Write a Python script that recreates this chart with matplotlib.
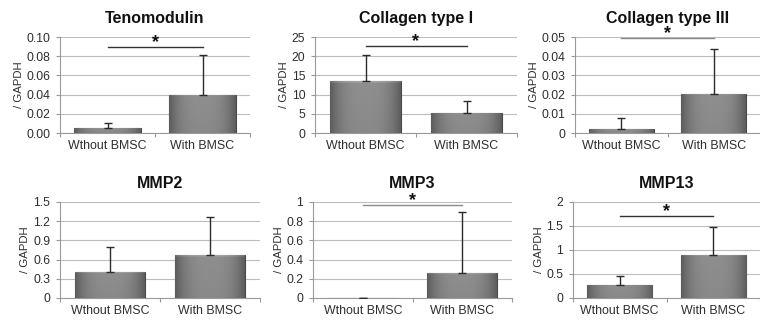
import numpy as np
import matplotlib
matplotlib.use("Agg")
import matplotlib.pyplot as plt

plt.rcParams["font.family"] = ["Liberation Sans", "DejaVu Sans"]

categories = ["Wthout BMSC", "With BMSC"]
titles = ["Tenomodulin", "Collagen type I", "Collagen type III", "MMP2", "MMP3", "MMP13"]

tenomodulin = [0.005, 0.040]
tenomodulin_err = [0.005, 0.041]
collagen1 = [13.5, 5.3]
collagen1_err = [6.9, 3.0]
collagen3 = [0.002, 0.0205]
collagen3_err = [0.0057, 0.0235]
mmp2 = [0.40, 0.67]
mmp2_err = [0.40, 0.59]
mmp3 = [0.003, 0.26]
mmp3_err = [0.0, 0.64]
mmp13 = [0.28, 0.90]
mmp13_err = [0.18, 0.58]

values = [tenomodulin, collagen1, collagen3, mmp2, mmp3, mmp13]
errors = [tenomodulin_err, collagen1_err, collagen3_err, mmp2_err, mmp3_err, mmp13_err]

yticks = [
    [0, 0.02, 0.04, 0.06, 0.08, 0.10],
    [0, 5, 10, 15, 20, 25],
    [0, 0.01, 0.02, 0.03, 0.04, 0.05],
    [0, 0.3, 0.6, 0.9, 1.2, 1.5],
    [0, 0.2, 0.4, 0.6, 0.8, 1.0],
    [0, 0.5, 1.0, 1.5, 2.0],
]
ytick_labels = [
    ["0.00", "0.02", "0.04", "0.06", "0.08", "0.10"],
    ["0", "5", "10", "15", "20", "25"],
    ["0", "0.01", "0.02", "0.03", "0.04", "0.05"],
    ["0", "0.3", "0.6", "0.9", "1.2", "1.5"],
    ["0", "0.2", "0.4", "0.6", "0.8", "1"],
    ["0", "0.5", "1", "1.5", "2"],
]
# significance bracket heights (None = no bracket)
sig_levels = [0.09, 22.7, 0.0495, None, 0.97, 1.7]
sig_colors = ["#333333", "#333333", "#8a8a8a", None, "#8a8a8a", "#333333"]

W, H = 760, 324
fig = plt.figure(figsize=(W / 100, H / 100), dpi=100)
fig.patch.set_facecolor("white")

# axes boxes in pixels: (left, top, right, bottom)
boxes = [
    (60, 37, 250, 133),
    (315, 37, 517, 133),
    (575, 37, 760, 133),
    (60, 202, 260, 298),
    (313, 202, 512, 298),
    (573, 202, 760, 298),
]

text_col = "#2e2e2e"
xs = np.linspace(0, 1, 80)
ys = np.linspace(0, 1, 60)
horiz = 1 - np.clip(np.abs(xs - 0.5) * 2, 0, 1) ** 3
vert = 1 - 0.12 * (1 - ys)
g = 0.36 + 0.20 * np.outer(vert, horiz)
g[-2:, :] = np.minimum(g[-2:, :] + 0.08, 1)
grad_rgb = np.dstack([g, g, g])

for i in range(6):
    l, t, r, b = boxes[i]
    ax = fig.add_axes([l / W, 1 - b / H, (r - l) / W, (b - t) / H])
    x = np.arange(1, len(categories) + 1)
    bars = ax.bar(x, values[i], width=0.7, color="#6f6f6f", edgecolor="#4a4a4a",
                  linewidth=0.8, zorder=3)
    for bar in bars:
        bx, by = bar.get_x(), bar.get_y()
        bw, bh = bar.get_width(), bar.get_height()
        if bh <= 0:
            continue
        im = ax.imshow(grad_rgb, aspect="auto", interpolation="bilinear",
                       extent=(bx, bx + bw, by, by + bh), origin="lower", zorder=3.5)
        im.set_clip_path(bar)
    ax.errorbar(x, values[i], yerr=[[0, 0], errors[i]], fmt="none", ecolor="#2b2b2b",
                elinewidth=1.0, capsize=3, capthick=1.0, zorder=4)
    ax.set_xlim(0.5, 2.5)
    ax.set_ylim(yticks[i][0], yticks[i][-1])
    ax.set_yticks(yticks[i])
    ax.set_yticklabels(ytick_labels[i], fontsize=8.7, color=text_col)
    ax.set_xticks([0.5, 1.5, 2.5])
    ax.set_xticklabels([])
    ax.set_xticks(x, minor=True)
    ax.set_xticklabels(categories, minor=True, fontsize=8.9, color=text_col)
    ax.tick_params(axis="x", which="minor", length=0, pad=5)
    ax.tick_params(axis="x", which="major", length=3, color="#999999", direction="out")
    ax.tick_params(axis="y", length=3, color="#999999", direction="out", pad=4)
    ax.grid(axis="y", color="#bdbdbd", linewidth=0.8, zorder=0)
    ax.set_axisbelow(True)
    for s in ["top", "right"]:
        ax.spines[s].set_visible(False)
    for s in ["left", "bottom"]:
        ax.spines[s].set_color("#9a9a9a")
        ax.spines[s].set_linewidth(0.8)
    ax.set_ylabel("/ GAPDH", fontsize=8.2, color=text_col, labelpad=2)
    ax.set_title(titles[i], fontsize=11.5, fontweight="bold", color="#111111", pad=10)
    if sig_levels[i] is not None:
        ax.plot([1, 2], [sig_levels[i], sig_levels[i]], color=sig_colors[i],
                linewidth=1.0, zorder=5, clip_on=False)
        ax.annotate("*", xy=(1.5, sig_levels[i]), xytext=(0, -3), textcoords="offset points",
                    ha="center", va="bottom", fontsize=13, fontweight="bold",
                    color="#111111", zorder=6, annotation_clip=False)

fig.savefig("out.png", dpi=100, facecolor="white")
